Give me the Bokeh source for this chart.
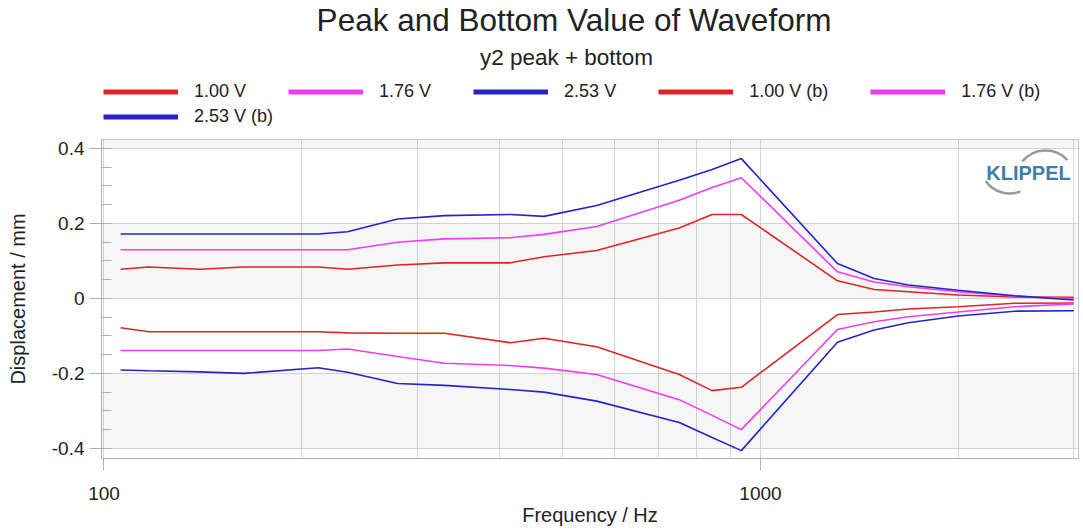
from math import log10
from bokeh.plotting import figure
from bokeh.layouts import column
from bokeh.models import (Legend, LegendItem, Label, FixedTicker,
                          NumeralTickFormatter, Range1d, BoxAnnotation)
from bokeh.embed import file_html
from bokeh.resources import INLINE

# ---------------- data ----------------
freq = [106, 117, 140, 163, 212, 235, 280, 330, 416, 468, 563, 752, 844, 935,
        1310, 1490, 1680, 2000, 2440, 3000]

peak_100 = [0.078, 0.084, 0.078, 0.084, 0.084, 0.078, 0.089, 0.095, 0.095, 0.111,
            0.128, 0.188, 0.224, 0.224, 0.047, 0.024, 0.018, 0.009, 0.004, 0.003]
peak_176 = [0.130, 0.130, 0.130, 0.130, 0.130, 0.130, 0.150, 0.159, 0.162, 0.171,
            0.192, 0.262, 0.296, 0.322, 0.071, 0.044, 0.031, 0.018, 0.006, 0.000]
peak_253 = [0.172, 0.172, 0.172, 0.172, 0.172, 0.178, 0.212, 0.221, 0.224, 0.219,
            0.248, 0.315, 0.344, 0.373, 0.093, 0.053, 0.036, 0.022, 0.007, -0.004]
bot_100 = [-0.078, -0.089, -0.089, -0.089, -0.089, -0.092, -0.093, -0.093, -0.118, -0.106,
           -0.129, -0.203, -0.246, -0.237, -0.043, -0.036, -0.028, -0.022, -0.013, -0.012]
bot_176 = [-0.139, -0.139, -0.139, -0.139, -0.139, -0.135, -0.155, -0.173, -0.179, -0.186,
           -0.203, -0.270, -0.312, -0.350, -0.083, -0.062, -0.049, -0.036, -0.022, -0.015]
bot_253 = [-0.191, -0.193, -0.196, -0.200, -0.185, -0.197, -0.227, -0.232, -0.243, -0.250,
           -0.274, -0.331, -0.371, -0.406, -0.117, -0.084, -0.065, -0.047, -0.034, -0.033]

series_labels = ["1.00 V", "1.76 V", "2.53 V", "1.00 V (b)", "1.76 V (b)", "2.53 V (b)"]
series_values = [peak_100, peak_176, peak_253, bot_100, bot_176, bot_253]

x_major = [100, 1000]
x_minor = [200, 300, 400, 500, 600, 700, 800, 900, 2000, 3000]
y_major = [-0.4, -0.2, 0, 0.2, 0.4]
y_minor = [round(i * 0.05, 2) for i in range(-8, 9)]
y_bands = [(-0.4, -0.2), (0.0, 0.2), (0.4, None)]

title_text = "Peak and Bottom Value of Waveform"
subtitle_text = "y2 peak + bottom"
x_label = "Frequency / Hz"
y_label = "Displacement / mm"

# ---------------- style ----------------
RED, MAGENTA, BLUE = "#e02424", "#f03cf0", "#2424c8"
colors = [RED, MAGENTA, BLUE, RED, MAGENTA, BLUE]
FONT = "Liberation Sans"
GRID = "#d6d6d6"
AXIS = "#b0b0b0"
TXT = "#222222"

W = 1083
HEAD_H = 139                     # header strip (titles + legend)
X0, X1 = 99.13, 3051
Y0, Y1 = -0.427, 0.424
MB_L, MB_R, MB_B = 101, 5, 72
FRAME_H = 319
H = FRAME_H + MB_B
FRAME_W = W - MB_L - MB_R
FRAME_BOTTOM = HEAD_H + FRAME_H    # page y of frame bottom


def sx(px):
    # page x -> screen x relative to the (column-aligned) frame left edge
    return px - MB_L


# ---------------- header figure ----------------
head = figure(width=W, height=HEAD_H, x_range=Range1d(0, 1), y_range=Range1d(0, 1),
              output_backend="svg", toolbar_location=None, title=None,
              x_axis_location=None, y_axis_location=None,
              min_border_left=MB_L, min_border_right=MB_R, min_border_top=0,
              min_border_bottom=0)
head.grid.visible = False
head.outline_line_color = None
head.background_fill_color = "white"
head.border_fill_color = "white"

NAN = float("nan")
items = []
for lab, c in zip(series_labels, colors):
    r = head.line(x=[NAN], y=[NAN], line_color=c, line_width=5)
    items.append(LegendItem(label=lab, renderers=[r]))


def make_legend(its, bottom_py):
    return Legend(items=its, orientation="horizontal",
                  location=(sx(103), HEAD_H - bottom_py), glyph_width=75, glyph_height=25,
                  label_height=25, label_standoff=16, spacing=42,
                  padding=0, margin=0, border_line_color=None,
                  background_fill_alpha=0, label_text_font=FONT,
                  label_text_font_size="18px", label_text_color=TXT,
                  label_text_baseline="middle")


head.add_layout(make_legend(items[:5], 103.5))
head.add_layout(make_legend(items[5:], 128.5))
head.add_layout(Label(x=sx(573.5), y=HEAD_H - 19, x_units="screen", y_units="screen",
                      text=title_text, text_align="center", text_baseline="middle",
                      text_font=FONT, text_font_size="31.5px", text_color=TXT))
head.add_layout(Label(x=sx(566), y=HEAD_H - 57, x_units="screen", y_units="screen",
                      text=subtitle_text, text_align="center", text_baseline="middle",
                      text_font=FONT, text_font_size="22.5px", text_color=TXT))

# ---------------- main plot ----------------
p = figure(width=W, height=H, x_axis_type="log",
           x_range=Range1d(X0, X1), y_range=Range1d(Y0, Y1),
           output_backend="svg", toolbar_location=None, title=None,
           min_border_left=MB_L, min_border_right=MB_R,
           min_border_top=0, min_border_bottom=MB_B)
p.background_fill_color = "white"
p.border_fill_color = "white"
p.outline_line_color = "#c8c8c8"

p.xaxis.ticker = FixedTicker(ticks=x_major, minor_ticks=x_minor)
p.xaxis.formatter = NumeralTickFormatter(format="0")
p.yaxis.ticker = FixedTicker(ticks=y_major, minor_ticks=y_minor)
p.yaxis.formatter = NumeralTickFormatter(format="0.[0]")
for ax in (p.xaxis, p.yaxis):
    ax.axis_line_color = AXIS
    ax.major_tick_line_color = AXIS
    ax.major_tick_in = 0
    ax.major_tick_out = 12
    ax.major_label_text_font = FONT
    ax.major_label_text_font_size = "19px"
    ax.major_label_text_color = TXT
    ax.axis_label_text_font = FONT
    ax.axis_label_text_font_size = "20px"
    ax.axis_label_text_font_style = "normal"
    ax.axis_label_text_color = TXT
p.xaxis.minor_tick_line_color = None
p.xaxis.major_label_standoff = 16
p.xaxis.axis_label_standoff = 1
p.yaxis.minor_tick_line_color = AXIS
p.yaxis.minor_tick_in = 10
p.yaxis.minor_tick_out = 0
p.yaxis.major_label_standoff = 5
p.yaxis.axis_label_standoff = 20
p.xaxis.axis_label = x_label
p.yaxis.axis_label = y_label

p.xgrid.ticker = FixedTicker(ticks=x_major, minor_ticks=x_minor)
p.xgrid.grid_line_color = GRID
p.xgrid.minor_grid_line_color = GRID
p.ygrid.ticker = FixedTicker(ticks=y_major)
p.ygrid.grid_line_color = GRID
for lo, hi in y_bands:
    p.add_layout(BoxAnnotation(bottom=lo, top=hi, fill_color="black",
                               fill_alpha=0.035, line_color=None, level="underlay"))

for vals, c in zip(series_values, colors):
    p.line(freq, vals, line_color=c, line_width=1.6)


def sy(py):
    return FRAME_BOTTOM - py


def dx(px):
    return 10 ** (log10(X0) + (px - MB_L) / FRAME_W * log10(X1 / X0))


def dy(py):
    return Y0 + (FRAME_BOTTOM - py) / FRAME_H * (Y1 - Y0)


# KLIPPEL logo
p.add_layout(Label(x=sx(1028), y=sy(172), x_units="screen", y_units="screen",
                   text="KLIPPEL", text_align="center", text_baseline="middle",
                   text_font=FONT, text_font_size="20px", text_font_style="bold",
                   text_color="#3f7ea6"))
p.arc(x=[dx(1045)], y=[dy(180)], radius=30, radius_units="screen",
      start_angle=0.75, end_angle=2.45, line_color="#9a9a9a", line_width=2.5)
p.arc(x=[dx(1009)], y=[dy(164)], radius=29, radius_units="screen",
      start_angle=3.75, end_angle=5.1, line_color="#9a9a9a", line_width=2.5)

open("out.html", "w").write(file_html(column(head, p, spacing=0), INLINE))
